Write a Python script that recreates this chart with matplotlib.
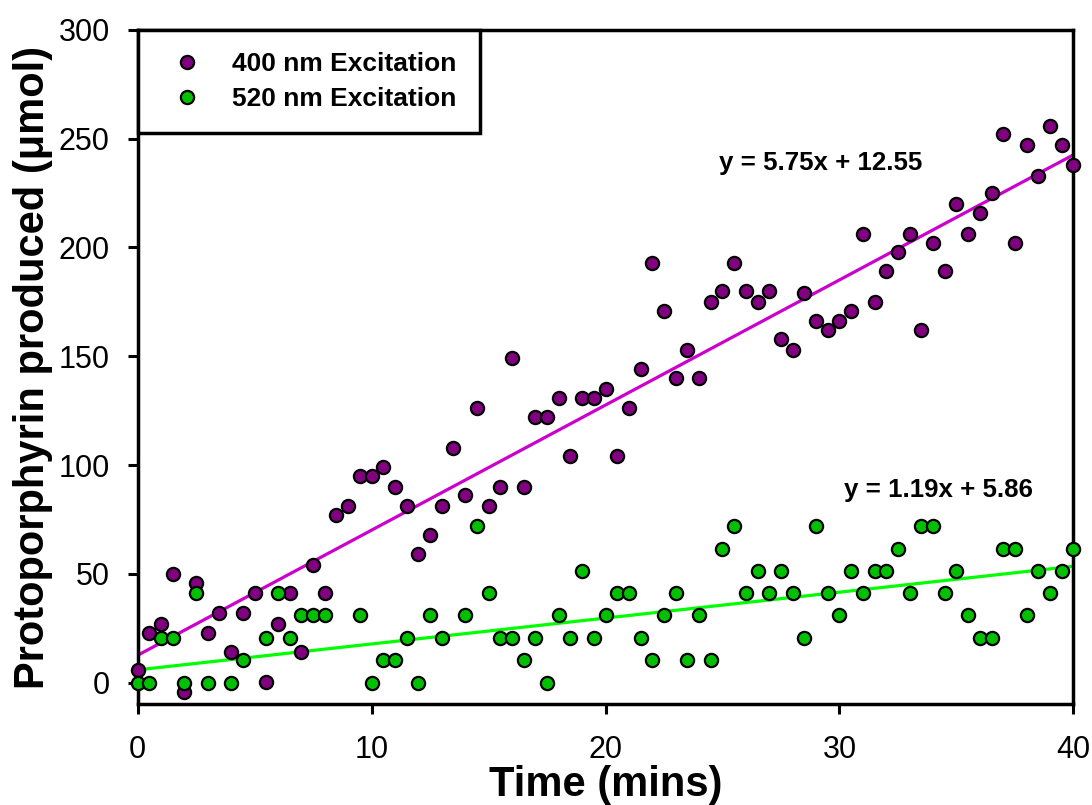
import matplotlib.pyplot as plt
import numpy as np

plt.rcParams['font.family'] = ['Liberation Sans', 'DejaVu Sans']

# sampling times (mins), one reading every 30 s
time = np.arange(0, 40.5, 0.5)

# protoporphyrin produced (umol) under 400 nm excitation
prod_400 = [6, 23, 27, 50, -4.5, 46, 23, 32, 14, 32,
            41, 0.5, 27, 41, 14, 54, 41, 77, 81, 95,
            95, 99, 90, 81, 59, 68, 81, 108, 86, 126,
            81, 90, 149, 90, 122, 122, 131, 104, 131, 131,
            135, 104, 126, 144, 193, 171, 140, 153, 140, 175,
            180, 193, 180, 175, 180, 158, 153, 179, 166, 162,
            166, 171, 206, 175, 189, 198, 206, 162, 202, 189,
            220, 206, 216, 225, 252, 202, 247, 233, 256, 247,
            238]

# protoporphyrin produced (umol) under 520 nm excitation (nan = no reading)
prod_520 = [0, 0, 20.5, 20.5, 0, 41.2, 0, np.nan, 0, 10.3,
            np.nan, 20.5, 41.2, 20.5, 30.9, 30.9, 30.9, np.nan, np.nan, 30.9,
            0, 10.3, 10.3, 20.5, 0, 30.9, 20.5, np.nan, 30.9, 71.8,
            41.2, 20.5, 20.5, 10.3, 20.5, 0, 30.9, 20.5, 51.4, 20.5,
            30.9, 41.2, 41.2, 20.5, 10.3, 30.9, 41.2, 10.3, 30.9, 10.3,
            61.5, 71.8, 41.2, 51.4, 41.2, 51.4, 41.2, 20.5, 71.8, 41.2,
            30.9, 51.4, 41.2, 51.4, 51.4, 61.5, 41.2, 71.8, 71.8, 41.2,
            51.4, 30.9, 20.5, 20.5, 61.5, 61.5, 30.9, 51.4, 41.2, 51.4,
            61.5]

# linear fits
slope_400, icpt_400 = 5.75, 12.55
slope_520, icpt_520 = 1.19, 5.86

fig, ax = plt.subplots(figsize=(10.92, 8.05), dpi=100)
fig.subplots_adjust(left=0.126, right=0.983, top=0.963, bottom=0.125)

xfit = np.array([0, 40])
ax.plot(xfit, slope_400 * xfit + icpt_400, color='#cc00cc', lw=2.3, zorder=2)
ax.plot(xfit, slope_520 * xfit + icpt_520, color='#00ff00', lw=2.3, zorder=2)

ax.plot(time, prod_400, 'o', ms=9.5, mfc='#800080', mec='black', mew=1.6,
        clip_on=False, zorder=3, label='400 nm Excitation')
ax.plot(time, prod_520, 'o', ms=9.5, mfc='#00c000', mec='black', mew=1.6,
        clip_on=False, zorder=4, label='520 nm Excitation')

ax.text(24.83, 239, f'y = {slope_400}x + {icpt_400}', fontsize=18.6,
        fontweight='bold', va='center')
ax.text(30.2, 88.7, f'y = {slope_520}x + {icpt_520}', fontsize=18.6,
        fontweight='bold', va='center')

ax.set_xlim(0, 40)
ax.set_ylim(-10, 300)
ax.set_xticks([0, 10, 20, 30, 40])
ax.set_yticks([0, 50, 100, 150, 200, 250, 300])

for sp in ax.spines.values():
    sp.set_linewidth(2.5)
ax.tick_params(direction='out', length=7, width=2.2, labelsize=22)
ax.tick_params(axis='x', pad=15)
ax.tick_params(axis='y', pad=13)

ax.set_xlabel('Time (mins)', fontsize=30, fontweight='bold', labelpad=0)
ax.set_ylabel('Protoporphyrin produced (μmol)', fontsize=30,
              fontweight='bold', labelpad=4)

leg = ax.legend(loc='upper left', bbox_to_anchor=(0, 1, 0.366, 0),
                mode='expand', borderaxespad=0, numpoints=1,
                prop={'weight': 'bold', 'size': 19},
                fancybox=False, framealpha=1, borderpad=0.85,
                handlelength=2.05, handletextpad=0.68, labelspacing=0.4)
leg.get_frame().set_edgecolor('black')
leg.get_frame().set_linewidth(2.5)
leg.set_zorder(5)

plt.savefig('out.png', dpi=100)
plt.close()
